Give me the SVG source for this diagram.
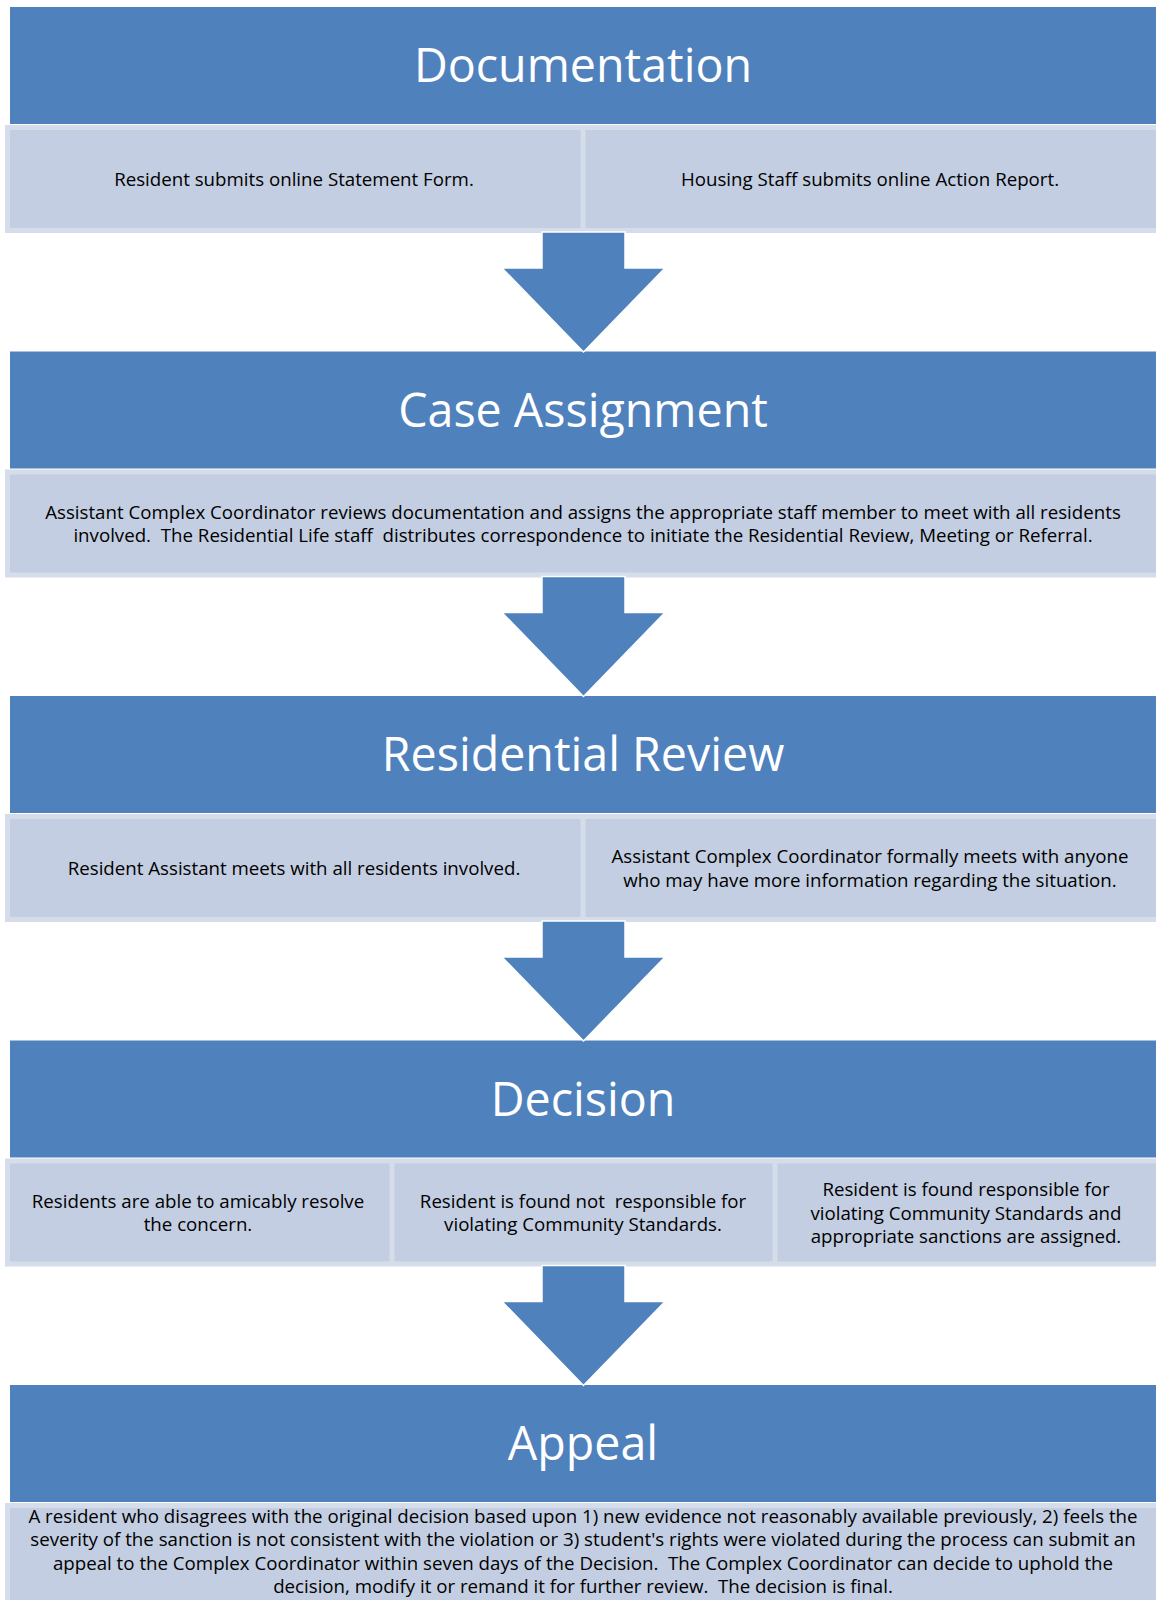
<svg xmlns="http://www.w3.org/2000/svg" width="1156" height="1600" viewBox="0 0 1156 1600" xml:space="preserve">
<style>
.hdr{fill:#4f81bd}
.bg{fill:#d5dcea}
.cell{fill:#c3cee2}
.arrow{fill:#4f81bd;stroke:#ffffff;stroke-width:1.5;stroke-linejoin:miter}
.title{font-family:"Open Sans","Noto Sans",sans-serif;font-size:46.6px;fill:#ffffff;text-anchor:middle;white-space:pre}
.body{font-family:"Open Sans","Noto Sans",sans-serif;font-size:18.7px;fill:#000000;text-anchor:middle;white-space:pre}
</style>
<rect width="1156" height="1600" fill="#ffffff"/>

<!-- Section 1 -->
<g id="documentation">
<rect class="hdr" x="10" y="7" width="1146" height="117"/>
<text class="title" x="583" y="82">Documentation</text>
</g>
<rect class="bg" x="5" y="125" width="1151" height="108"/>
<g id="doc-resident">
<rect class="cell" x="10" y="130" width="570.5" height="98"/>
<text class="body" x="294" y="186">Resident submits online Statement Form.</text>
</g>
<g id="doc-staff">
<rect class="cell" x="585.5" y="130" width="570.5" height="98"/>
<text class="body" x="870" y="186">Housing Staff submits online Action Report.</text>
</g>

<!-- Section 2 -->
<g id="case-assignment">
<rect class="hdr" x="10" y="351.5" width="1146" height="117"/>
<text class="title" x="583" y="426.5">Case Assignment</text>
</g>
<rect class="bg" x="5" y="469.5" width="1151" height="108"/>
<g id="case-detail">
<rect class="cell" x="10" y="474.5" width="1146" height="98"/>
<text class="body" x="583" y="518.75">Assistant Complex Coordinator reviews documentation and assigns the appropriate staff member to meet with all residents</text>
<text class="body" x="583" y="542.25">involved.  The Residential Life staff  distributes correspondence to initiate the Residential Review, Meeting or Referral.</text>
</g>

<!-- Section 3 -->
<g id="residential-review">
<rect class="hdr" x="10" y="696" width="1146" height="117"/>
<text class="title" x="583" y="771">Residential Review</text>
</g>
<rect class="bg" x="5" y="814" width="1151" height="108"/>
<g id="review-ra">
<rect class="cell" x="10" y="819" width="570.5" height="98"/>
<text class="body" x="294" y="875">Resident Assistant meets with all residents involved.</text>
</g>
<g id="review-acc">
<rect class="cell" x="585.5" y="819" width="570.5" height="98"/>
<text class="body" x="870" y="863.25">Assistant Complex Coordinator formally meets with anyone</text>
<text class="body" x="870" y="886.75">who may have more information regarding the situation.</text>
</g>

<!-- Section 4 -->
<g id="decision">
<rect class="hdr" x="10" y="1040.5" width="1146" height="117"/>
<text class="title" x="583" y="1115.5">Decision</text>
</g>
<rect class="bg" x="5" y="1158.5" width="1151" height="108"/>
<g id="decision-resolve">
<rect class="cell" x="10" y="1163.5" width="379.5" height="98"/>
<text class="body" x="198" y="1207.75">Residents are able to amicably resolve</text>
<text class="body" x="198" y="1231.25">the concern.</text>
</g>
<g id="decision-not-responsible">
<rect class="cell" x="394.5" y="1163.5" width="378" height="98"/>
<text class="body" x="583" y="1207.75">Resident is found not  responsible for</text>
<text class="body" x="583" y="1231.25">violating Community Standards.</text>
</g>
<g id="decision-responsible">
<rect class="cell" x="777.5" y="1163.5" width="378.5" height="98"/>
<text class="body" x="966" y="1196">Resident is found responsible for</text>
<text class="body" x="966" y="1219.5">violating Community Standards and</text>
<text class="body" x="966" y="1243">appropriate sanctions are assigned.</text>
</g>

<!-- Section 5 -->
<g id="appeal">
<rect class="hdr" x="10" y="1385" width="1146" height="117"/>
<text class="title" x="583" y="1460">Appeal</text>
</g>
<rect class="bg" x="5" y="1503" width="1151" height="108"/>
<g id="appeal-detail">
<rect class="cell" x="10" y="1508" width="1146" height="98"/>
<text class="body" x="583" y="1522.5">A resident who disagrees with the original decision based upon 1) new evidence not reasonably available previously, 2) feels the</text>
<text class="body" x="583" y="1546">severity of the sanction is not consistent with the violation or 3) student's rights were violated during the process can submit an</text>
<text class="body" x="583" y="1569.5">appeal to the Complex Coordinator within seven days of the Decision.  The Complex Coordinator can decide to uphold the</text>
<text class="body" x="583" y="1593">decision, modify it or remand it for further review.  The decision is final.</text>
</g>

<!-- Connectors -->
<g id="connectors">
<path class="arrow" d="M542,232 H625 V268 H665 L583.5,352 L502,268 H542 Z"/>
<path class="arrow" d="M542,576.5 H625 V612.5 H665 L583.5,696.5 L502,612.5 H542 Z"/>
<path class="arrow" d="M542,921 H625 V957 H665 L583.5,1041 L502,957 H542 Z"/>
<path class="arrow" d="M542,1265.5 H625 V1301.5 H665 L583.5,1385.5 L502,1301.5 H542 Z"/>
</g>
</svg>
